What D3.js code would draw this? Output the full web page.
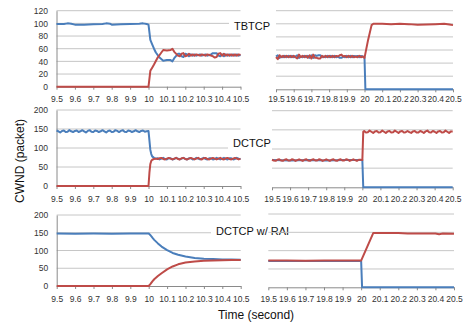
<!DOCTYPE html>
<html>
<head>
<meta charset="utf-8">
<script src="https://cdnjs.cloudflare.com/ajax/libs/d3/7.8.5/d3.min.js"></script>
<style>
body { margin: 0; background: #fff; }
svg { display: block; font-family: "Liberation Sans", Arial, sans-serif; }
</style>
</head>
<body>
<div id="content"></div>
<script>
(function() {

// tick values and labels
var leftTicks = [9.5, 9.6, 9.7, 9.8, 9.9, 10, 10.1, 10.2, 10.3, 10.4, 10.5];
var leftTickLabels = ['9.5', '9.6', '9.7', '9.8', '9.9', '10', '10.1', '10.2', '10.3', '10.4', '10.5'];
var rightTicks = [19.5, 19.6, 19.7, 19.8, 19.9, 20, 20.1, 20.2, 20.3, 20.4, 20.5];
var rightTickLabels = ['19.5', '19.6', '19.7', '19.8', '19.9', '20', '20.1', '20.2', '20.3', '20.4', '20.5'];
var tbtcpYTicks = [0, 20, 40, 60, 80, 100, 120];
var dctcpYTicks = [0, 50, 100, 150, 200];

var titles = ['TBTCP', 'DCTCP', 'DCTCP w/ RAI'];

// [time (s), cwnd (packets)] -- flow 1 (blue) and flow 2 (red)
var tbtcpLeftBlue = [[9.5,99],[9.54,99],[9.56,100],[9.58,99.5],[9.6,98],[9.65,98],[9.7,98.5],[9.75,99],[9.77,100],[9.79,99.5],[9.8,98],[9.85,98.5],[9.9,99],[9.95,99.5],[9.97,100],[9.99,99],[10.0,98],[10.01,74],[10.02,67],[10.03,60],[10.04,54],[10.06,46],[10.08,41],[10.1,42],[10.12,42],[10.13,40],[10.14,45],[10.16,52],
  [10.17,52],[10.18,48],[10.19,47],[10.2,52],[10.21,51],[10.22,48],[10.23,51],[10.24,49],[10.25,51],[10.26,49],[10.27,50],[10.28,51],[10.29,49],[10.3,50],[10.31,51],[10.32,49],[10.33,50],[10.34,51],[10.35,53],[10.36,53],[10.37,53],[10.38,49],[10.39,48],[10.4,51],[10.41,48],[10.42,51],[10.43,49],[10.44,51],[10.45,49],[10.46,51],[10.47,49],[10.48,51],[10.49,49],[10.5,50]];
var tbtcpLeftRed = [[9.5,0],[10.0,0],[10.01,25],[10.02,30],[10.03,35],[10.05,46],[10.07,54],[10.08,58],[10.1,57],[10.12,58],[10.13,60],[10.14,55],[10.16,49],
  [10.17,48],[10.18,52],[10.19,53],[10.2,48],[10.21,49],[10.22,52],[10.23,49],[10.24,51],[10.25,49],[10.26,51],[10.27,50],[10.28,49],[10.29,51],[10.3,50],[10.31,49],[10.32,51],[10.33,50],[10.34,49],[10.35,48],[10.36,46],[10.37,47],[10.38,52],[10.39,53],[10.4,49],[10.41,52],[10.42,49],[10.43,51],[10.44,49],[10.45,51],[10.46,49],[10.47,51],[10.48,49],[10.49,51],[10.5,50]];

var tbtcpRightBlue = [[19.5,50],[19.51,52],[19.52,48],[19.53,50],[19.54,49],[19.55,51],[19.56,49],[19.57,51],[19.58,49],[19.59,51],[19.6,49],[19.61,50],[19.62,52],[19.63,48],[19.64,50],[19.65,49],[19.66,51],[19.67,49],[19.68,51],[19.69,48],[19.7,52],[19.71,48],[19.72,52],[19.73,51],[19.74,52],[19.75,52],[19.76,49],[19.77,50],[19.78,49],[19.79,51],[19.8,49],[19.81,51],[19.82,49],[19.83,51],[19.84,49],[19.85,50],[19.86,48],[19.87,48],[19.88,50],[19.89,49],[19.9,51],[19.91,49],[19.92,51],[19.93,49],[19.94,51],[19.95,50],[19.96,51],[19.97,49],[19.98,51],[19.99,50],[20.0,49],[20.005,0],[20.5,0]];
var tbtcpRightRed = [[19.5,49],[19.51,46],[19.52,52],[19.53,49],[19.54,51],[19.55,49],[19.56,51],[19.57,49],[19.58,51],[19.59,49],[19.6,51],[19.61,49],[19.62,47],[19.63,53],[19.64,49],[19.65,51],[19.66,49],[19.67,51],[19.68,48],[19.69,52],[19.7,47],[19.71,53],[19.72,48],[19.73,48],[19.74,47],[19.75,47],[19.76,51],[19.77,49],[19.78,51],[19.79,49],[19.8,51],[19.81,49],[19.82,51],[19.83,49],[19.84,51],[19.85,50],[19.86,52],[19.87,53],[19.88,50],[19.89,51],[19.9,49],[19.91,51],[19.92,49],[19.93,51],[19.94,49],[19.95,50],[19.96,49],[19.97,51],[19.98,49],[19.99,50],[20.0,48],
  [20.02,75],[20.04,98],[20.05,100],[20.1,100],[20.15,99.5],[20.2,100],[20.25,99.5],[20.3,98.5],[20.35,99],[20.4,99.5],[20.45,100],[20.48,99],[20.5,98]];

var dctcpLeftBlue = [[9.5,146],[9.51,144],[9.52,141],[9.53,145],[9.54,146],[9.55,142],[9.56,143],[9.57,147],[9.58,144],[9.59,142],[9.6,145],[9.61,146],[9.62,142],[9.63,144],[9.64,147],[9.65,144],[9.66,141],[9.67,145],[9.68,147],[9.69,143],[9.7,142],[9.71,146],[9.72,145],[9.73,142],[9.74,144],[9.75,147],[9.76,144],[9.77,141],[9.78,145],[9.79,146],[9.8,142],[9.81,143],[9.82,147],[9.83,145],[9.84,142],[9.85,145],[9.86,147],[9.87,143],[9.88,142],[9.89,146],[9.9,145],[9.91,142],[9.92,144],[9.93,147],[9.94,144],[9.95,142],[9.96,145],[9.97,146],[9.98,143],[9.99,144],[10.0,145],
  [10.005,120],[10.01,95],[10.015,84],[10.02,78],[10.03,74],[10.04,72],
  [10.05,73],[10.06,70],[10.07,72],[10.08,74],[10.09,71],[10.1,70],[10.11,73],[10.12,73],[10.13,70],[10.14,71],[10.15,74],[10.16,72],[10.17,70],[10.18,72],[10.19,74],[10.2,71],[10.21,70],[10.22,73],[10.23,73],[10.24,70],[10.25,71],[10.26,74],[10.27,72],[10.28,70],[10.29,72],[10.3,74],[10.31,71],[10.32,70],[10.33,73],[10.34,73],[10.35,70],[10.36,71],[10.37,74],[10.38,72],[10.39,70],[10.4,72],[10.41,74],[10.42,71],[10.43,70],[10.44,73],[10.45,73],[10.46,70],[10.47,71],[10.48,74],[10.49,72],[10.5,71]];
var dctcpLeftRed = [[9.5,0],[10.0,0],[10.005,35],[10.01,58],[10.015,66],[10.02,69],[10.03,71],
  [10.04,72],[10.05,71],[10.06,73],[10.07,74],[10.08,71],[10.09,70],[10.1,72],[10.11,74],[10.12,72],[10.13,70],[10.14,72],[10.15,74],[10.16,71],[10.17,70],[10.18,73],[10.19,74],[10.2,71],[10.21,70],[10.22,72],[10.23,74],[10.24,72],[10.25,70],[10.26,72],[10.27,74],[10.28,71],[10.29,70],[10.3,73],[10.31,74],[10.32,71],[10.33,70],[10.34,72],[10.35,74],[10.36,72],[10.37,70],[10.38,72],[10.39,74],[10.4,71],[10.41,70],[10.42,73],[10.43,74],[10.44,71],[10.45,70],[10.46,72],[10.47,74],[10.48,72],[10.49,70],[10.5,72]];

var dctcpRightBlue = [[19.5,71],[19.6,70],[19.7,71],[19.8,70],[19.9,71],[20.0,71],[20.005,0],[20.5,0]];
var dctcpRightRed = [[19.5,72],[19.51,70],[19.52,69],[19.53,72],[19.54,73],[19.55,70],[19.56,69],[19.57,72],[19.58,73],[19.59,70],[19.6,70],[19.61,73],[19.62,72],[19.63,69],[19.64,71],[19.65,73],[19.66,71],[19.67,69],[19.68,72],[19.69,73],[19.7,70],[19.71,69],[19.72,72],[19.73,73],[19.74,70],[19.75,70],[19.76,73],[19.77,72],[19.78,69],[19.79,71],[19.8,73],[19.81,71],[19.82,69],[19.83,72],[19.84,73],[19.85,70],[19.86,69],[19.87,72],[19.88,73],[19.89,70],[19.9,70],[19.91,73],[19.92,72],[19.93,69],[19.94,71],[19.95,73],[19.96,71],[19.97,69],[19.98,72],[19.99,72],[20.0,71],
  [20.005,145],[20.01,147],[20.02,143],[20.03,144],[20.04,148],[20.05,145],[20.06,142],[20.07,146],[20.08,147],[20.09,143],[20.1,144],[20.11,148],[20.12,145],[20.13,142],[20.14,146],[20.15,147],[20.16,143],[20.17,144],[20.18,148],[20.19,145],[20.2,142],[20.21,146],[20.22,147],[20.23,143],[20.24,144],[20.25,147],[20.26,144],[20.27,142],[20.28,146],[20.29,147],[20.3,143],[20.31,143],[20.32,147],[20.33,145],[20.34,142],[20.35,146],[20.36,148],[20.37,144],[20.38,143],[20.39,147],[20.4,145],[20.41,142],[20.42,146],[20.43,147],[20.44,143],[20.45,144],[20.46,148],[20.47,145],[20.48,142],[20.49,146],[20.5,146]];

var raiLeftBlue = [[9.5,148],[9.6,147.5],[9.7,148],[9.8,147.5],[9.9,148],[10.0,148],[10.01,143],[10.02,136],[10.03,130],[10.05,120],[10.07,111],[10.1,101],[10.13,93],[10.16,88],[10.2,83],[10.25,79],[10.3,77],[10.35,76],[10.4,75],[10.45,74.5],[10.5,74]];
var raiLeftRed = [[9.5,0],[10.0,0],[10.01,6],[10.02,13],[10.03,19],[10.05,28],[10.07,36],[10.1,47],[10.13,55],[10.16,61],[10.2,66],[10.25,69],[10.3,71],[10.35,72],[10.4,72.5],[10.45,73],[10.5,73]];

var raiRightBlue = [[19.5,72],[20.0,72],[20.005,0],[20.5,0]];
var raiRightRed = [[19.5,73],[19.6,73],[19.7,72.5],[19.8,73],[19.9,73],[20.0,73],[20.065,148],[20.1,148.5],[20.2,148],[20.25,147],[20.3,146.5],[20.4,147],[20.42,145],[20.44,146.5],[20.5,146]];

var blueColor = '#4a7ebb', redColor = '#be4b48';
var gridColor = '#c6c6c6', axisColor = '#8a8a8a', tickFont = 8.5;

var svg = d3.select('#content')
    .append('svg')
    .attr('width', 463)
    .attr('height', 324);

function drawPanel(p) {
    var x = d3.scaleLinear().domain([p.ticks[0], p.ticks[p.ticks.length - 1]]).range([p.x0, p.x1]);
    var y = d3.scaleLinear().domain([0, p.yTicks[p.yTicks.length - 1]]).range([p.yBot, p.yTop]);
    var g = svg.append('g');

    g.selectAll('line.grid')
        .data(p.yTicks.filter(function(d) { return d > 0; }))
        .enter()
        .append('line')
        .attr('class', 'grid')
        .attr('x1', p.x0).attr('x2', p.x1)
        .attr('y1', function(d) { return y(d); })
        .attr('y2', function(d) { return y(d); })
        .attr('stroke', gridColor)
        .attr('stroke-width', 1);

    var xAxis = g.append('g')
        .attr('transform', 'translate(0,' + p.yBot + ')')
        .call(d3.axisBottom(x)
            .tickValues(p.ticks)
            .tickFormat(function(d, i) { return p.labels[i]; })
            .tickSize(3)
            .tickSizeOuter(0)
            .tickPadding(p.labelY - p.yBot - 3 - 0.71 * tickFont));
    xAxis.select('.domain').attr('stroke', axisColor);
    xAxis.selectAll('.tick line').attr('stroke', axisColor);
    xAxis.selectAll('text').attr('font-size', tickFont).attr('fill', '#333').style('font-family', 'Liberation Sans, Arial, sans-serif');

    if (p.showY) {
        var yAxis = g.append('g')
            .attr('transform', 'translate(' + p.x0 + ',0)')
            .call(d3.axisLeft(y).tickValues(p.yTicks).tickSize(0).tickSizeOuter(0).tickPadding(8.5));
        yAxis.select('.domain').attr('stroke', axisColor);
        yAxis.selectAll('text').attr('font-size', tickFont).attr('fill', '#333').style('font-family', 'Liberation Sans, Arial, sans-serif');
    }

    var line = d3.line()
        .x(function(d) { return x(d[0]); })
        .y(function(d) { return y(d[1]); });

    [[p.blue, blueColor], [p.red, redColor]].forEach(function(s) {
        g.append('path')
            .datum(s[0])
            .attr('d', line)
            .attr('fill', 'none')
            .attr('stroke', s[1])
            .attr('stroke-width', 2)
            .attr('stroke-linejoin', 'round');
    });
}

var leftPanels = [
    {ticks: leftTicks, labels: leftTickLabels, yTicks: tbtcpYTicks, x0: 56.5, x1: 240.5, yTop: 10.7, yBot: 86.7, labelY: 102, showY: true, blue: tbtcpLeftBlue, red: tbtcpLeftRed},
    {ticks: leftTicks, labels: leftTickLabels, yTicks: dctcpYTicks, x0: 56.5, x1: 240.5, yTop: 110, yBot: 186, labelY: 202, showY: true, blue: dctcpLeftBlue, red: dctcpLeftRed},
    {ticks: leftTicks, labels: leftTickLabels, yTicks: dctcpYTicks, x0: 56.7, x1: 240.7, yTop: 215, yBot: 286, labelY: 302, showY: true, blue: raiLeftBlue, red: raiLeftRed}
];
var rightPanels = [
    {ticks: rightTicks, labels: rightTickLabels, yTicks: tbtcpYTicks, x0: 276, x1: 453, yTop: 10.7, yBot: 89.3, labelY: 102.3, showY: false, blue: tbtcpRightBlue, red: tbtcpRightRed},
    {ticks: rightTicks, labels: rightTickLabels, yTicks: dctcpYTicks, x0: 272, x1: 452.7, yTop: 110.7, yBot: 187.3, labelY: 202.3, showY: false, blue: dctcpRightBlue, red: dctcpRightRed},
    {ticks: rightTicks, labels: rightTickLabels, yTicks: dctcpYTicks, x0: 268.3, x1: 454, yTop: 214, yBot: 287.3, labelY: 302.3, showY: false, blue: raiRightBlue, red: raiRightRed}
];

leftPanels.forEach(drawPanel);

// protocol names sit in a white box over the left charts
var titlePos = [[234, 30], [233, 147], [216, 235]];
titles.forEach(function(t, i) {
    var tg = svg.append('g');
    var rect = tg.append('rect').attr('fill', '#fff');
    var txt = tg.append('text')
        .attr('x', titlePos[i][0])
        .attr('y', titlePos[i][1])
        .attr('font-size', 11)
        .attr('fill', '#111')
        .text(t);
    var bb = txt.node().getBBox();
    rect.attr('x', bb.x - 5).attr('y', bb.y - 1).attr('width', bb.width + 10).attr('height', bb.height + 2);
});

rightPanels.forEach(drawPanel);

svg.append('text')
    .attr('transform', 'translate(24,161) rotate(-90)')
    .attr('text-anchor', 'middle')
    .attr('font-size', 12)
    .attr('fill', '#111')
    .text('CWND (packet)');

svg.append('text')
    .attr('x', 256)
    .attr('y', 318.5)
    .attr('text-anchor', 'middle')
    .attr('font-size', 12)
    .attr('fill', '#111')
    .text('Time (second)');

})();
</script>
</body>
</html>
